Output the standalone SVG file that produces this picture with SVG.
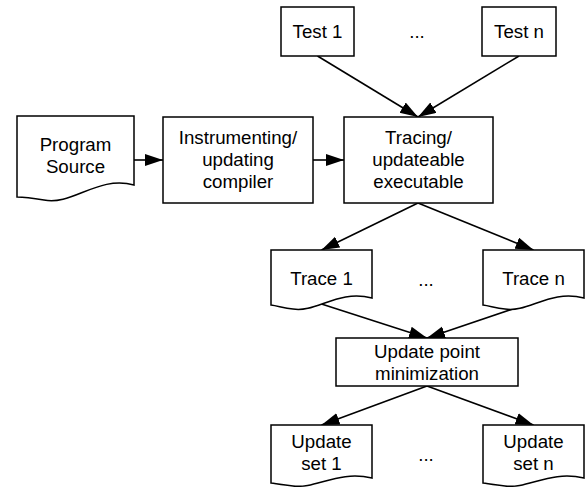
<svg xmlns="http://www.w3.org/2000/svg" width="587" height="487" viewBox="0 0 587 487">
<defs>
<marker id="arr" markerUnits="userSpaceOnUse" markerWidth="19" markerHeight="13" refX="18" refY="6" orient="auto">
<path d="M0,0 L18,6 L0,12 z" fill="#000"/>
</marker>
<style>
.box{fill:#fff;stroke:#000;stroke-width:1.5}
.t{font-family:"Liberation Sans",Arial,Helvetica,sans-serif;font-size:18.7px;fill:#000;text-anchor:middle}
.c{stroke:#000;stroke-width:1.6;fill:none;marker-end:url(#arr)}
</style>
</defs>
<rect width="587" height="487" fill="#fff"/>
<g id="connectors">
<line class="c" x1="134" y1="160" x2="163" y2="160"/>
<line class="c" x1="313" y1="160" x2="344" y2="160"/>
<line class="c" x1="317.5" y1="56" x2="418" y2="117"/>
<line class="c" x1="519" y1="56" x2="418" y2="117"/>
<line class="c" x1="418" y1="203" x2="321.5" y2="250"/>
<line class="c" x1="418" y1="203" x2="533.5" y2="250"/>
<line class="c" x1="321.5" y1="304" x2="427" y2="338"/>
<line class="c" x1="533.5" y1="302" x2="427" y2="338"/>
<line class="c" x1="427" y1="386" x2="321.5" y2="425"/>
<line class="c" x1="427" y1="386" x2="533.5" y2="425"/>
</g>
<g id="program-source">
<path class="box" d="M17,116 H134 V185 C98,175 72,206 44,200 C32,198 24,197 17,197 Z"/>
<text class="t" x="75.5" y="151">Program</text>
<text class="t" x="75.5" y="173">Source</text>
</g>
<g id="compiler">
<rect class="box" x="163" y="117" width="150" height="86"/>
<text class="t" x="238" y="144">Instrumenting/</text>
<text class="t" x="238" y="166">updating</text>
<text class="t" x="238" y="188">compiler</text>
</g>
<g id="executable">
<rect class="box" x="344" y="117" width="149" height="86"/>
<text class="t" x="418.5" y="144">Tracing/</text>
<text class="t" x="418.5" y="166">updateable</text>
<text class="t" x="418.5" y="188">executable</text>
</g>
<g id="test1">
<rect class="box" x="281" y="7" width="73" height="49"/>
<text class="t" x="317.5" y="38">Test 1</text>
</g>
<g id="testn">
<rect class="box" x="482" y="7" width="74" height="49"/>
<text class="t" x="519" y="38">Test n</text>
</g>
<text class="t" x="417" y="38">...</text>
<g id="trace1">
<path class="box" d="M271,250 H372 V298 C338,289 316,313 293,309 C284,308 278,306 271,305 Z"/>
<text class="t" x="321.5" y="285">Trace 1</text>
</g>
<g id="tracen">
<path class="box" d="M483,250 H584 V298 C550,289 528,313 505,309 C496,308 490,306 483,305 Z"/>
<text class="t" x="533.5" y="285">Trace n</text>
</g>
<text class="t" x="426" y="286">...</text>
<g id="minimization">
<rect class="box" x="336" y="338" width="182" height="48"/>
<text class="t" x="427" y="358">Update point</text>
<text class="t" x="427" y="380">minimization</text>
</g>
<g id="updateset1">
<path class="box" d="M271,425 H372 V478 C338,470 316,489 293,486 C284,485 278,484 271,483 Z"/>
<text class="t" x="321.5" y="448">Update</text>
<text class="t" x="321.5" y="470">set 1</text>
</g>
<g id="updatesetn">
<path class="box" d="M483,425 H584 V478 C550,470 528,489 505,486 C496,485 490,484 483,483 Z"/>
<text class="t" x="533.5" y="448">Update</text>
<text class="t" x="533.5" y="470">set n</text>
</g>
<text class="t" x="426" y="461">...</text>
</svg>
